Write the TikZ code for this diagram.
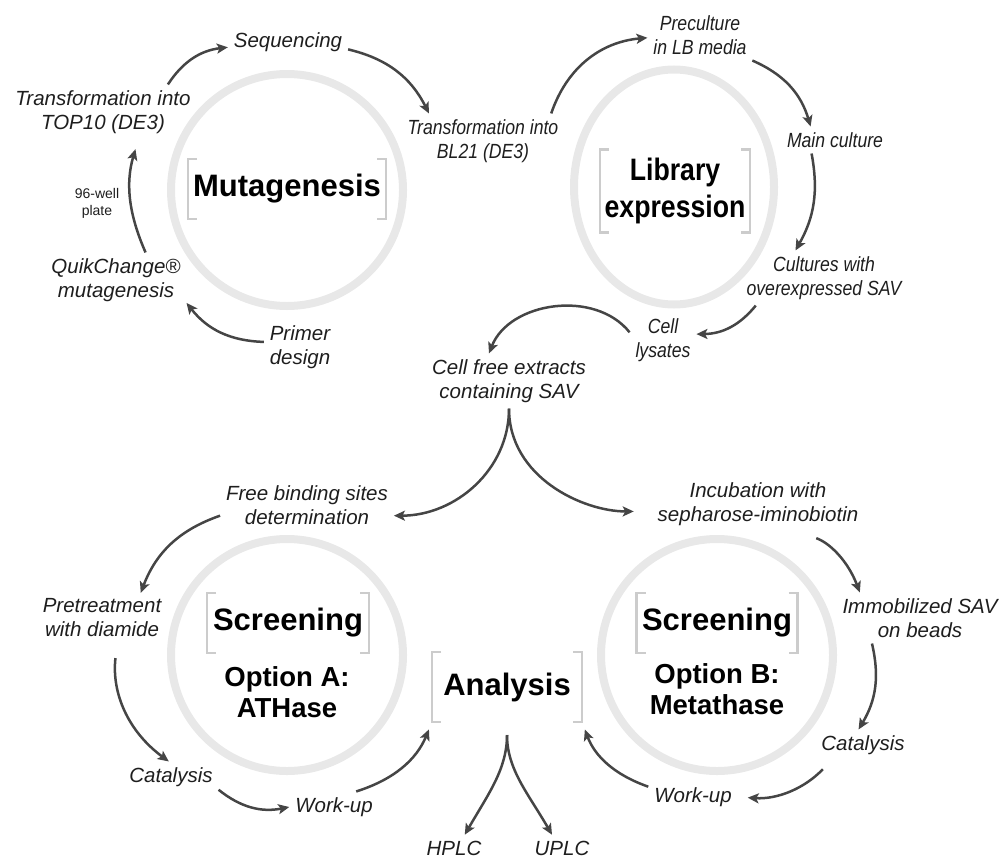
\documentclass[tikz,border=0pt]{standalone}
\usepackage{fontspec}
\setmainfont{Liberation Sans}
\usepackage{graphicx}
\usepackage{tikz}
\usetikzlibrary{arrows.meta}
\usetikzlibrary{shapes.geometric}
\definecolor{ringgray}{HTML}{E8E8E8}
\definecolor{brkgray}{HTML}{CCCCCC}
\definecolor{flowgray}{HTML}{454545}
\definecolor{labelgray}{HTML}{1E1E1E}
\newcommand{\sqz}[1]{\scalebox{0.86}[1]{#1}}
\newcommand{\hubbrackets}[1]{%
\draw[brk] ([xshift=9pt]#1.north west) -- (#1.north west) -- (#1.south west) -- ++(9,0);
\draw[brk] ([xshift=-9pt]#1.north east) -- (#1.north east) -- (#1.south east) -- ++(-9,0);}

\begin{document}
\begin{tikzpicture}[x=1pt,y=1pt]
\tikzstyle{steplabel}=[font=\fontsize{20.5}{24}\selectfont\itshape, text=labelgray, align=center, inner sep=1pt, outer sep=5pt]
\tikzstyle{welllabel}=[font=\fontsize{14}{17}\selectfont, text=labelgray, align=center]
\tikzstyle{hub}=[circle, draw=ringgray, line width=8pt, minimum size=232pt]
\tikzstyle{hubtitle}=[font=\fontsize{31}{37}\selectfont\bfseries, align=center, inner sep=0pt, outer sep=0pt]
\tikzstyle{variant}=[font=\fontsize{27.5}{31}\selectfont\bfseries, align=center]
\tikzstyle{brk}=[draw=brkgray, line width=2.5pt]
\tikzstyle{flow}=[draw=flowgray, line width=2.5pt, -{Stealth[length=11pt,width=10pt,inset=2.5pt]}]
\useasboundingbox (0,0) rectangle (1008,-859);

% rings
\node[hub] (mutring) at (287,-190) {};
\node[hub, ellipse, minimum width=200pt, minimum height=235pt] (libring) at (674,-187) {};
\node[hub] (scrAring) at (287,-655) {};
\node[hub] (scrBring) at (717,-655) {};

% titles
\node[hubtitle, minimum width=198pt, minimum height=60pt] (mut) at (287,-189) {Mutagenesis};
\node[hubtitle, minimum width=150pt, minimum height=83pt] (lib) at (675,-191) {\sqz{Library}\\\sqz{expression}};
\node[hubtitle, minimum width=162pt, minimum height=60pt] (scrA) at (288,-623) {Screening};
\node[variant] (optA) at (287,-692) {Option A:\\ATHase};
\node[hubtitle, minimum width=161pt, minimum height=60pt] (scrB) at (717,-623) {Screening};
\node[variant] (optB) at (717,-689) {Option B:\\Metathase};
\node[hubtitle, minimum width=150pt, minimum height=70pt] (ana) at (507,-687) {Analysis};
\hubbrackets{mut}
\hubbrackets{lib}
\hubbrackets{scrA}
\hubbrackets{scrB}
\hubbrackets{ana}

% mutagenesis
\node[steplabel] (seq) at (288,-42) {Sequencing};
\node[steplabel] (top10) at (103,-112) {Transformation into\\TOP10 (DE3)};
\node[welllabel] (well) at (97,-203) {96-well\\plate};
\node[steplabel] (quik) at (116,-280) {QuikChange®\\mutagenesis};
\node[steplabel] (primer) at (300,-347) {Primer\\design};

% library expression
\node[steplabel] (bl21) at (483,-141) {\sqz{Transformation into}\\\sqz{BL21 (DE3)}};
\node[steplabel] (precul) at (700,-35) {\sqz{Preculture}\\\sqz{in LB media}};
\node[steplabel] (mainc) at (835,-140) {\sqz{Main culture}};
\node[steplabel] (cultures) at (824,-278) {\sqz{Cultures with}\\\sqz{overexpressed SAV}};
\node[steplabel] (lysates) at (663,-340) {\sqz{Cell}\\\sqz{lysates}};
\node[steplabel] (cfe) at (509,-381) {Cell free extracts\\containing SAV};

% screening
\node[steplabel] (fbs) at (307,-505) {Free binding sites\\determination};
\node[steplabel] (pretr) at (102,-618) {Pretreatment\\with diamide};
\node[steplabel] (catA) at (171,-777) {Catalysis};
\node[steplabel] (workA) at (334,-807) {Work-up};
\node[steplabel] (incub) at (758,-504) {Incubation with\\sepharose-iminobiotin};
\node[steplabel] (immob) at (920,-618) {Immobilized SAV\\on beads};
\node[steplabel] (catB) at (863,-745) {Catalysis};
\node[steplabel] (workB) at (693,-797) {Work-up};
\node[steplabel] (hplc) at (454,-848) {HPLC};
\node[steplabel] (uplc) at (562,-848) {UPLC};

% arrows
\draw[flow] (top10.23) to[bend left=25] (seq.185);
\draw[flow] (seq.-7) to[bend left=25] (bl21.153);
\draw[flow] (primer.172) to[bend left=25] (quik.-18);
\draw[flow, shorten >=10pt] (quik.43) to[bend left=20] (top10.-38);
\draw[flow] (bl21.22) to[bend left=33] (precul.183);
\draw[flow] (precul.-26) to[bend left=25] (mainc.151);
\draw[flow] (mainc.210) to[bend left=20] (cultures.136);
\draw[flow] (cultures.202) to[bend left=25] (lysates.10);
\draw[flow] (lysates.167) to[bend right=60] (cfe.126);
\draw[flow] (cfe.south) to[out=270,in=0] (fbs.-7);
\draw[flow, shorten >=18pt] (cfe.south) to[out=270,in=180] (incub.184);
\draw[flow] (fbs.187) to[bend right=25] (pretr.33);
\draw[flow, shorten <=15pt] (pretr.-59) to[bend right=30] (catA.98);
\draw[flow] (catA.-15) to[bend right=25] (workA.180);
\draw[flow, shorten >=8pt] (workA.35) to[bend right=25] (ana.south west);
\draw[flow, shorten <=13pt] (ana.south) to[out=270,in=60] (hplc.51);
\draw[flow, shorten <=13pt] (ana.south) to[out=270,in=120] (uplc.127);
\draw[flow, shorten <=20pt] (incub.-35) to[bend left=25] (immob.157);
\draw[flow] (immob.208) to[bend left=22] (catB.106);
\draw[flow, shorten <=12pt, shorten >=10pt] (catB.206) to[bend left=25] (workB.east);
\draw[flow, shorten >=8pt] (workB.167) to[bend left=25] (ana.south east);
\end{tikzpicture}
\end{document}
